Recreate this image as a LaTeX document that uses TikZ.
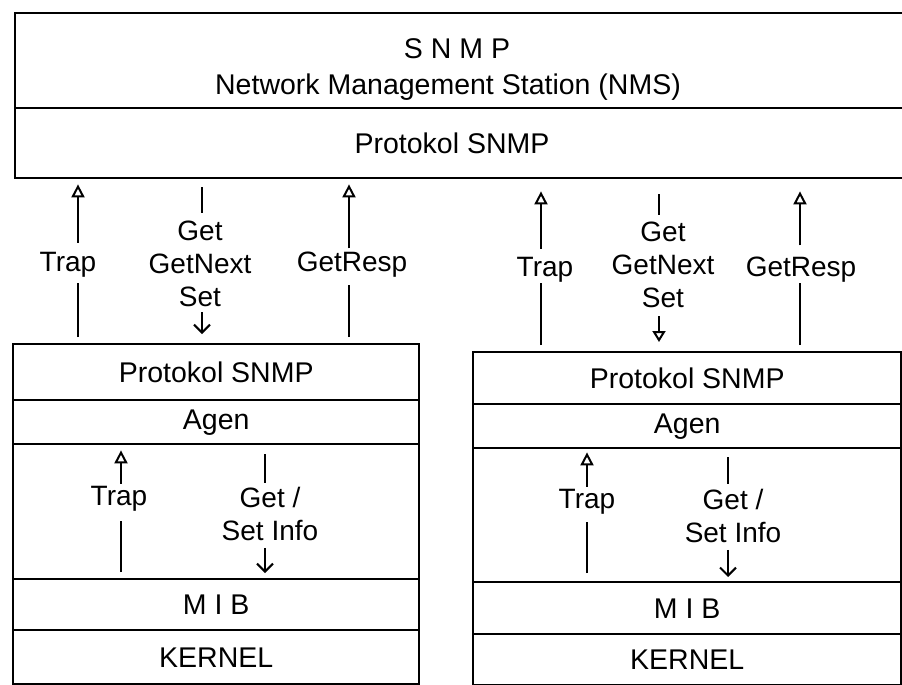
\documentclass[tikz,border=0pt]{standalone}
\usepackage{fontspec}
\setmainfont{Liberation Sans}
\usetikzlibrary{arrows.meta}
\begin{document}
\begin{tikzpicture}[x=1pt,y=-1pt,
  lay/.style={draw, line width=2.4pt, inner sep=0pt, anchor=north west, font=\fontsize{28.5}{33}\selectfont},
  txt/.style={inner sep=0pt, align=center, font=\fontsize{28.5}{33}\selectfont},
  lbl/.style={inner sep=0pt, font=\fontsize{28}{33}\selectfont},
  mlbl/.style={inner sep=0pt, align=center, font=\fontsize{28}{33}\selectfont},
  ln/.style={line width=2.2pt},
  upar/.style={ln, -{Triangle[open, length=13pt, width=13pt, line width=2pt]}},
  dnar/.style={ln, -{Straight Barb[length=8pt, width=16pt, line width=2pt]}},
  dntri/.style={ln, -{Triangle[open, length=11pt, width=13pt, line width=2pt]}}]
\useasboundingbox (0,0) rectangle (902,685);
\clip (0,0) rectangle (902,685);

% NMS box
\node[lay, minimum width=920pt, minimum height=95pt] (nms) at (14,12) {};
\node[lay, minimum width=920pt, minimum height=70pt] (nmsp) at (14,107) {};
\node[txt] (nmst1) at (457,49) {S N M P};
\node[txt] (nmst2) at (448,87) {Network Management Station (NMS)};
\node[txt] (nmst3) at (452,143) {Protokol SNMP};

% left agent stack
\node[lay, minimum width=406pt, minimum height=56pt] (lproto) at (12,343) {Protokol SNMP};
\node[lay, minimum width=406pt, minimum height=44pt] (lagen) at (12,399) {Agen};
\node[lay, minimum width=406pt, minimum height=135pt] (lbody) at (12,443) {};
\node[lay, minimum width=406pt, minimum height=51pt] (lmib) at (12,578) {M I B};
\node[lay, minimum width=406pt, minimum height=54pt] (lkern) at (12,629) {KERNEL};

% right agent stack
\node[lay, minimum width=428pt, minimum height=52pt] (rproto) at (472,351) {Protokol SNMP};
\node[lay, minimum width=428pt, minimum height=44pt] (ragen) at (472,403) {Agen};
\node[lay, minimum width=428pt, minimum height=134pt] (rbody) at (472,447) {};
\node[lay, minimum width=428pt, minimum height=52pt] (rmib) at (472,581) {M I B};
\node[lay, minimum width=428pt, minimum height=51pt] (rkern) at (472,633) {KERNEL};

% x positions of connector lines
\coordinate (xa) at (78,0);
\coordinate (xb) at (202,0);
\coordinate (xc) at (349,0);
\coordinate (xd) at (541,0);
\coordinate (xe) at (659,0);
\coordinate (xf) at (800,0);
\coordinate (xg) at (121,0);
\coordinate (xh) at (265,0);
\coordinate (xi) at (587,0);
\coordinate (xj) at (728,0);

% upper labels, left
\node[lbl, anchor=base] (ltrap) at (68,271) {Trap};
\node[mlbl] (lget) at (200,264) {Get\\GetNext\\Set};
\node[lbl, anchor=base] (lresp) at (352,271) {GetResp};
% upper labels, right
\node[lbl, anchor=base] (rtrap) at (545,276) {Trap};
\node[mlbl] (rget) at (663,265) {Get\\GetNext\\Set};
\node[lbl, anchor=base] (rresp) at (801,276) {GetResp};

% inner labels, left
\node[lbl, anchor=base] (ltrapi) at (119,505) {Trap};
\node[mlbl] (lgeti) at (270,514) {Get /\\Set Info};
% inner labels, right
\node[lbl, anchor=base] (rtrapi) at (587,508) {Trap};
\node[mlbl] (rgeti) at (733,516) {Get /\\Set Info};

% upper connectors, left
\draw[ln] ([yshift=6pt]lproto.north -| xa) -- ([yshift=-6pt]ltrap.south -| xa);
\draw[upar] ([yshift=9pt]ltrap.north -| xa) -- ([yshift=-5pt]nmsp.south -| xa);
\draw[ln] ([yshift=-8pt]nmsp.south -| xb) -- ([yshift=8pt]lget.north -| xb);
\draw[dnar] ([yshift=-5pt]lget.south -| xb) -- ([yshift=9pt]lproto.north -| xb);
\draw[ln] ([yshift=6pt]lproto.north -| xc) -- ([yshift=-8pt]lresp.south -| xc);
\draw[upar] ([yshift=3pt]lresp.north -| xc) -- ([yshift=-5pt]nmsp.south -| xc);
% upper connectors, right
\draw[ln] ([yshift=6pt]rproto.north -| xd) -- ([yshift=-1pt]rtrap.south -| xd);
\draw[upar] ([yshift=8pt]rtrap.north -| xd) -- ([yshift=-12pt]nmsp.south -| xd);
\draw[ln] ([yshift=-15pt]nmsp.south -| xe) -- ([yshift=7pt]rget.north -| xe);
\draw[dntri] ([yshift=-8pt]rget.south -| xe) -- ([yshift=9pt]rproto.north -| xe);
\draw[ln] ([yshift=6pt]rproto.north -| xf) -- ([yshift=-1pt]rresp.south -| xf);
\draw[upar] ([yshift=11pt]rresp.north -| xf) -- ([yshift=-12pt]nmsp.south -| xf);

% inner connectors, left
\draw[ln] ([yshift=6pt]lmib.north -| xg) -- ([yshift=-10pt]ltrapi.south -| xg);
\draw[upar] ([yshift=2pt]ltrapi.north -| xg) -- ([yshift=-5pt]lagen.south -| xg);
\draw[ln] ([yshift=-9pt]lagen.south -| xh) -- ([yshift=4pt]lgeti.north -| xh);
\draw[dnar] ([yshift=-7pt]lgeti.south -| xh) -- ([yshift=5pt]lmib.north -| xh);
% inner connectors, right
\draw[ln] ([yshift=8pt]rmib.north -| xi) -- ([yshift=-8pt]rtrapi.south -| xi);
\draw[upar] ([yshift=2pt]rtrapi.north -| xi) -- ([yshift=-3pt]ragen.south -| xi);
\draw[ln] ([yshift=-8pt]ragen.south -| xj) -- ([yshift=5pt]rgeti.north -| xj);
\draw[dnar] ([yshift=-7pt]rgeti.south -| xj) -- ([yshift=4pt]rmib.north -| xj);
\end{tikzpicture}
\end{document}
